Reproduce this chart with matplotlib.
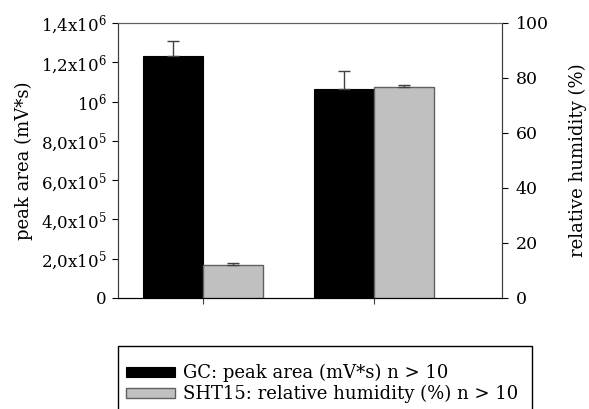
import numpy as np
import matplotlib
matplotlib.use("Agg")
import matplotlib.pyplot as plt
from matplotlib.ticker import FixedLocator
from matplotlib.patches import Rectangle

plt.rcParams["font.family"] = "DejaVu Serif"
plt.rcParams["mathtext.fontset"] = "dejavuserif"

# data
groups = [0, 1]
gc_area = [1.23e6, 1.063e6]
gc_err = [0.077e6, 0.094e6]
rh = [11.9, 76.8]
rh_err = [0.85, 0.7]

left_ticks = [0, 2e5, 4e5, 6e5, 8e5, 1e6, 1.2e6, 1.4e6]
left_labels = ["0", r"2,0x10$^5$", r"4,0x10$^5$", r"6,0x10$^5$", r"8,0x10$^5$",
               r"10$^6$", r"1,2x10$^6$", r"1,4x10$^6$"]
right_ticks = [0, 20, 40, 60, 80, 100]

W, H = 589, 409
fig = plt.figure(figsize=(W / 100, H / 100), dpi=100)
ax = fig.add_axes([0.2003, 0.2714, 0.652, 0.6724])
ax2 = ax.twinx()

w = 0.35
x = np.array(groups, dtype=float)
b1 = ax.bar(x - w / 2, gc_area, w, color="black", edgecolor="black", linewidth=0.8,
            label="GC: peak area (mV*s) n > 10", zorder=2)
ax.errorbar(x - w / 2, gc_area, yerr=[np.zeros(2), gc_err], fmt="none",
            ecolor="#404040", elinewidth=1, capsize=4, capthick=1, zorder=3)
b2 = ax2.bar(x + w / 2, rh, w, color="#c0c0c0", edgecolor="#606060", linewidth=1,
             label="SHT15: relative humidity (%) n > 10", zorder=2)
ax2.errorbar(x + w / 2, rh, yerr=[np.zeros(2), rh_err], fmt="none",
             ecolor="#404040", elinewidth=1, capsize=4, capthick=1, zorder=3)

ax.set_xlim(-0.497, 1.749)
ax.set_ylim(0, 1.4e6)
ax2.set_ylim(0, 100)

ax.yaxis.set_major_locator(FixedLocator(left_ticks))
ax.set_yticklabels(left_labels)
ax2.set_yticks(right_ticks)
ax.set_xticks(groups)
ax.set_xticklabels([])
ax.tick_params(axis="x", direction="out", length=4, color="#404040")
ax.tick_params(axis="y", direction="out", length=4, labelsize=12, pad=4)
ax2.tick_params(axis="y", direction="out", length=4, labelsize=12.5, pad=6)

for a in (ax, ax2):
    a.spines["top"].set_color("#606060")
    a.spines["left"].set_color("#404040")
    a.spines["right"].set_color("#404040")
    a.spines["bottom"].set_color("black")

ax.set_ylabel("peak area (mV*s)", fontsize=13, labelpad=6)
ax2.set_ylabel("relative humidity (%)", fontsize=13, labelpad=14)

# legend box runs off the bottom edge in the reference
fig.patches.append(Rectangle((118 / W, -0.05), (532 - 118) / W, 0.05 + 1 - 346 / H,
                             transform=fig.transFigure, fill=False,
                             edgecolor="black", linewidth=1))
leg = fig.legend(handles=[b1, b2], loc="upper left",
                 bbox_to_anchor=(126 / W, 1 - 364 / H),
                 borderaxespad=0, borderpad=0,
                 fontsize=13, frameon=False,
                 handlelength=2.7, handleheight=0.5, handletextpad=0.45,
                 labelspacing=0.15)

fig.savefig("out.png", dpi=100)
